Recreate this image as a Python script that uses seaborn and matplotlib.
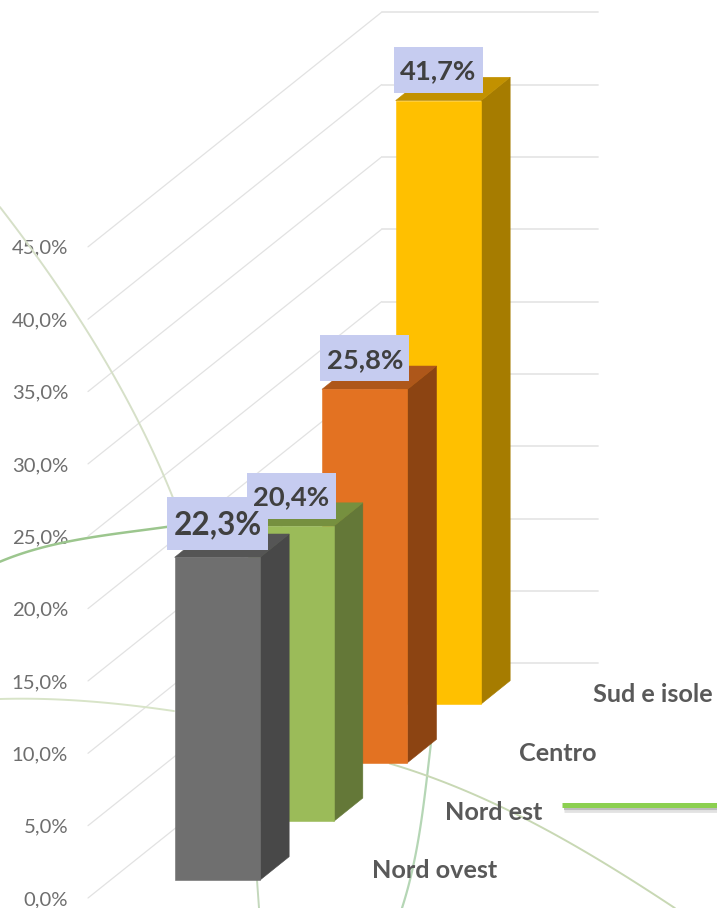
import matplotlib
matplotlib.use("Agg")
import matplotlib.pyplot as plt
from matplotlib.patches import Rectangle
from matplotlib.transforms import Affine2D
import numpy as np
import seaborn as sns

regions = ["Nord ovest", "Nord est", "Centro", "Sud e isole"]
values = [22.3, 20.4, 25.8, 41.7]
ticks = [0, 5, 10, 15, 20, 25, 30, 35, 40, 45]

front_colors = ["#6F6F6F", "#9BBB59", "#E37222", "#FFC000"]
side_colors = ["#484848", "#647838", "#8C4412", "#A67C00"]
top_colors = ["#555555", "#76903F", "#AE571A", "#C29100"]
label_sizes = [22.7, 19.7, 19.7, 19.7]
box_widths = [101, 89, 89, 89]
box_heights = [53, 46, 46, 46]
box_lifts = [34, 30.5, 31, 30.5]

# the curved lines behind the chart, in picture pixels
arc_pale_1 = ([0, 37, 80, 112, 140, 163, 173], [207, 257, 320, 372, 425, 475, 497])
arc_green_1 = ([0, 33, 67, 117, 167], [562, 549, 543, 533, 527])
arc_pale_2 = ([0, 67, 110, 143, 174], [699, 700, 703, 707, 711])
arc_green_2 = ([431, 427, 417, 402], [743, 777, 847, 908])
arc_green_3 = ([257, 259], [880, 908])
arc_pale_3 = ([390, 427, 510, 593, 675], [763, 777, 810, 857, 908])

W, H = 717, 908
PX_PER_PCT = 14.47
PX_PER_CAT = 73.67
FIRST_CENTER = 217.4  # pixel x of first bar
BAR_WIDTH = 85.5 / PX_PER_CAT
BASE = 18 / PX_PER_PCT  # floor of the first bar, in %
STEP = 58.67 / PX_PER_PCT  # rise of the floor per category
DEPTH_X = 29 / PX_PER_CAT
DEPTH_Y = 23.3 / PX_PER_PCT


def smooth(arc):
    # bend the read points into one clean curve
    xs, ys = np.array(arc[0], float), np.array(arc[1], float)
    t = np.r_[0, np.cumsum(np.hypot(np.diff(xs), np.diff(ys)))]
    deg = min(3, len(xs) - 1)
    tt = np.linspace(0, t[-1], 80)
    return np.polyval(np.polyfit(t, xs, deg), tt), np.polyval(np.polyfit(t, ys, deg), tt)


sns.set_theme(style="white")
plt.rcParams["font.family"] = ["Lato", "DejaVu Sans"]

fig = plt.figure(figsize=(W / 100, H / 100), dpi=100)
ax = fig.add_axes([0, 0, 1, 1])

bottoms = [BASE + i * STEP for i in range(len(regions))]
sns.barplot(x=regions, y=values, bottom=bottoms, width=BAR_WIDTH, color="#6F6F6F",
            saturation=1, linewidth=0, ax=ax)

ax.set_xlim(-FIRST_CENTER / PX_PER_CAT, (W - FIRST_CENTER) / PX_PER_CAT)
ax.set_ylim(-10 / PX_PER_PCT, 898 / PX_PER_PCT)
ax.set_xlabel("")
ax.set_ylabel("")
ax.set_xticks([])
ax.set_yticks(ticks)
ax.set_yticklabels([f"{t:.1f}%".replace(".", ",") for t in ticks], color="#6E6E6E", fontsize=14.6)
ax.tick_params(axis="y", length=0, pad=-49)
for spine in ax.spines.values():
    spine.set_visible(False)

# walls: oblique line then horizontal line for each tick
grid_x0 = (88 - FIRST_CENTER) / PX_PER_CAT
grid_x1 = (381.7 - FIRST_CENTER) / PX_PER_CAT
grid_x2 = (597.7 - FIRST_CENTER) / PX_PER_CAT
grid_rise = 234.7 / PX_PER_PCT
for t in ticks:
    ax.plot([grid_x0, grid_x1], [t, t + grid_rise], color="#E2E2E2", lw=0.9, zorder=1)
    ax.plot([grid_x1, grid_x2], [t + grid_rise, t + grid_rise], color="#E6E6E6", lw=1.3, zorder=1)

# background decoration
px = Affine2D().scale(1, -1).translate(0, H)
for arc, col, lw in [(arc_pale_1, "#D6E0C8", 1.4), (arc_green_1, "#9CC68E", 1.8),
                     (arc_pale_2, "#D8E4C8", 1.4), (arc_green_2, "#B5D6B5", 1.6),
                     (arc_green_3, "#C4D8BC", 1.4), (arc_pale_3, "#C8D8B4", 1.4)]:
    cx, cy = smooth(arc)
    ax.plot(cx, cy, color=col, lw=lw, transform=px, zorder=2)
ax.plot([564, W], [811, 811], color="#E2E2E2", lw=2, transform=px, zorder=2, solid_capstyle="butt")
ax.plot([564, W], [809, 809], color="#BDBDBD", lw=1.6, transform=px, zorder=2, solid_capstyle="butt")
ax.plot([562, W], [805, 805], color="#8CD050", lw=3.6, transform=px, zorder=3, solid_capstyle="butt")

# 3D faces, back bars first
for i, patch in enumerate(ax.patches[:len(regions)]):
    z = 20 - 2 * i
    patch.set_facecolor(front_colors[i])
    patch.set_edgecolor(front_colors[i])
    patch.set_linewidth(0.4)
    patch.set_zorder(z + 1)
    left = patch.get_x()
    right = left + patch.get_width()
    low = patch.get_y()
    high = low + patch.get_height()
    ax.fill([right, right + DEPTH_X, right + DEPTH_X, right],
            [low, low + DEPTH_Y, high + DEPTH_Y, high],
            color=side_colors[i], lw=0.4, zorder=z)
    ax.fill([left, left + DEPTH_X, right + DEPTH_X, right],
            [high, high + DEPTH_Y, high + DEPTH_Y, high],
            color=top_colors[i], lw=0.4, zorder=z)

    ax.text(i + (371.5 - FIRST_CENTER) / PX_PER_CAT, low + 9 / PX_PER_PCT, regions[i], color="#595959",
            fontsize=18.2, fontweight="bold", ha="left", va="center", zorder=30)

    # value label: box first, all texts stay on top of all boxes
    center = high + box_lifts[i] / PX_PER_PCT
    bw = box_widths[i] / PX_PER_CAT
    bh = box_heights[i] / PX_PER_PCT
    ax.add_patch(Rectangle((i - bw / 2, center - bh / 2), bw, bh, facecolor="#C6CCF0",
                           edgecolor="none", zorder=40))
    ax.text(i, center - 1.4 / PX_PER_PCT, f"{values[i]:.1f}%".replace(".", ","),
            color="#404040", fontsize=label_sizes[i], fontweight="bold", ha="center",
            va="center", zorder=50)

fig.savefig("out.png", dpi=100, facecolor="white")
